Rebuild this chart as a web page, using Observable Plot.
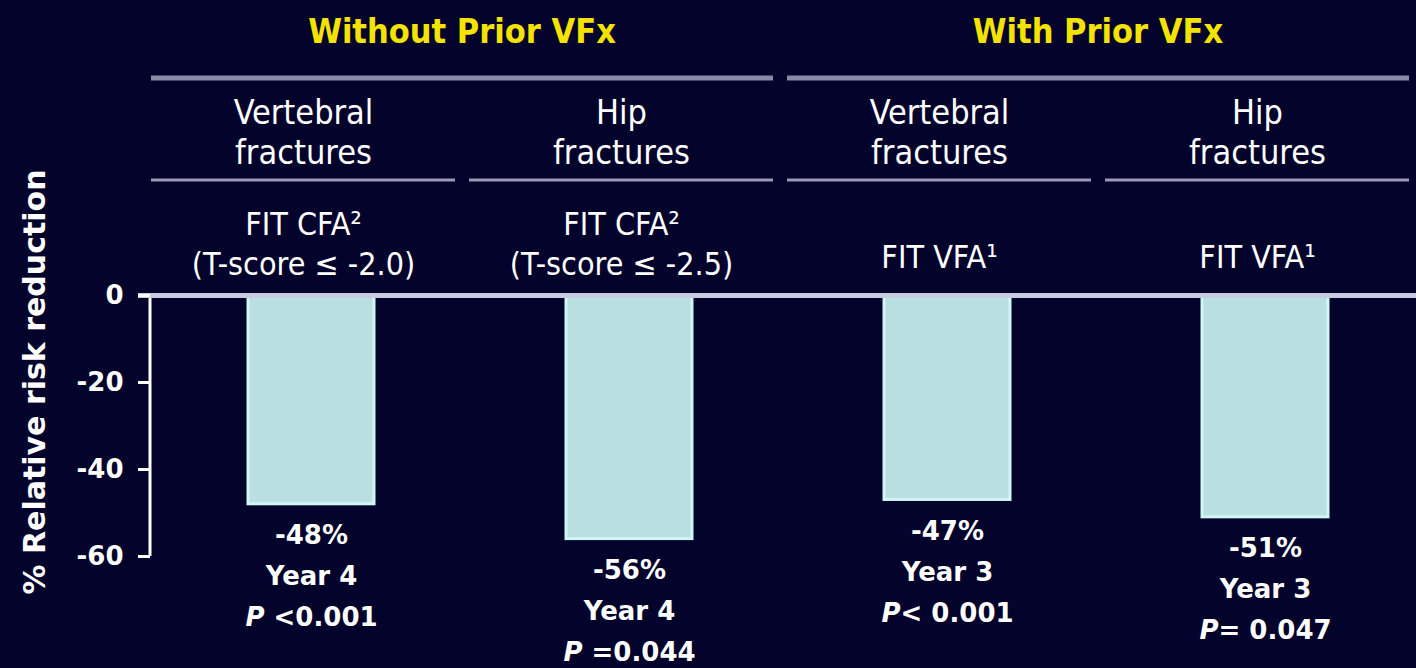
<!DOCTYPE html>
<html>
<head>
<meta charset="utf-8">
<script src="https://cdn.jsdelivr.net/npm/d3@7"></script>
<script src="https://cdn.jsdelivr.net/npm/@observablehq/plot@0.6"></script>
<style>
  html, body { margin: 0; padding: 0; background: #03032c; }
  #chart { width: 1416px; height: 668px; }
</style>
</head>
<body>
<div id="chart"></div>
<script>
// ---- Data ----
const groups = ["Without Prior VFx", "Without Prior VFx", "With Prior VFx", "With Prior VFx"];
const fractureTypes = ["Vertebral\nfractures", "Hip\nfractures", "Vertebral\nfractures", "Hip\nfractures"];
const studies = ["FIT CFA²\n(T-score ≤ -2.0)", "FIT CFA²\n(T-score ≤ -2.5)", "FIT VFA¹", "FIT VFA¹"];
const values = [-48, -56, -47, -51];
const valueLabels = ["-48%", "-56%", "-47%", "-51%"];
const years = ["Year 4", "Year 4", "Year 3", "Year 3"];
const pValues = ["P <0.001", "P =0.044", "P< 0.001", "P= 0.047"];
const yTicks = [0, -20, -40, -60];
const yLabel = "% Relative risk reduction";

// ---- Derived table ----
const keys = groups.map((g, i) => g + " | " + fractureTypes[i].replace("\n", " "));
const rows = keys.map((key, i) => ({
  key,
  group: groups[i],
  type: fractureTypes[i],
  study: studies[i],
  value: values[i],
  label: `${valueLabels[i]}\n${years[i]}\n${pValues[i]}`
}));

const BG = "#03032c";
const YELLOW = "#f4e300";
const COND = "'DejaVu Sans Condensed', 'DejaVu Sans', sans-serif";
const SANS = "'DejaVu Sans', sans-serif";

// Header decorations (group titles, separator lines, y-axis line) computed from the scales
function headerMark(index, scales, vals, dimensions) {
  const x = scales.x;
  const bw = x.bandwidth ? x.bandwidth() : 0;
  const step = x.step ? x.step() : 320;
  const top = dimensions.marginTop;
  const shift = -8, half = step * 0.478;
  const g = d3.create("svg:g");
  const centers = keys.map(k => x(k) + bw / 2 + shift);
  const groupNames = [...new Set(groups)];
  groupNames.forEach(name => {
    const cs = centers.filter((c, i) => groups[i] === name);
    const x1 = d3.min(cs) - half, x2 = d3.max(cs) + half;
    g.append("line")
      .attr("x1", x1).attr("x2", x2)
      .attr("y1", top - 217).attr("y2", top - 217)
      .attr("stroke", "#8a8aa8").attr("stroke-width", 5);
    g.append("text")
      .attr("x", (x1 + x2) / 2).attr("y", top - 263).attr("dy", "0.32em")
      .attr("text-anchor", "middle")
      .attr("fill", YELLOW)
      .attr("font-family", COND).attr("font-weight", "bold").attr("font-size", 34)
      .text(name);
  });
  centers.forEach(c => {
    g.append("line")
      .attr("x1", c - half).attr("x2", c + half)
      .attr("y1", top - 115).attr("y2", top - 115)
      .attr("stroke", "#9a9ab6").attr("stroke-width", 3);
  });
  // y axis line
  g.append("line")
    .attr("x1", dimensions.marginLeft).attr("x2", dimensions.marginLeft)
    .attr("y1", scales.y(0)).attr("y2", scales.y(d3.min(yTicks)))
    .attr("stroke", "white").attr("stroke-width", 3);
  return g.node();
}

const twoLineStudies = rows.filter(d => d.study.includes("\n"));
const oneLineStudies = rows.filter(d => !d.study.includes("\n"));

const plot = Plot.plot({
  width: 1416,
  height: 668,
  marginLeft: 150,
  marginRight: 0,
  marginTop: 295,
  marginBottom: 112,
  style: { background: BG, color: "white", fontFamily: SANS, overflow: "visible" },
  x: { type: "band", domain: keys, range: [150, 1425], paddingInner: 0.604, paddingOuter: 0.305, axis: null },
  y: { domain: [-60, 0], axis: null },
  marks: [
    headerMark,
    // column headers
    Plot.text(rows, {
      x: "key", text: "type", frameAnchor: "top", dy: -164, dx: -8,
      lineAnchor: "middle", lineHeight: 1.18,
      fill: "white", fontFamily: COND, fontSize: 34
    }),
    Plot.text(twoLineStudies, {
      x: "key", text: "study", frameAnchor: "top", dy: -53, dx: -8,
      lineAnchor: "middle", lineHeight: 1.25,
      fill: "white", fontFamily: COND, fontSize: 32
    }),
    Plot.text(oneLineStudies, {
      x: "key", text: "study", frameAnchor: "top", dy: -38, dx: -8,
      lineAnchor: "middle",
      fill: "white", fontFamily: COND, fontSize: 32
    }),
    // bars
    Plot.barY(rows, { x: "key", y: "value", fill: "#b9dfe1", stroke: "#d2f6f6", strokeWidth: 3 }),
    // zero line
    Plot.ruleY([0], { stroke: "#c9c9e0", strokeWidth: 5, insetLeft: -12 }),
    // y axis
    Plot.axisY({
      ticks: yTicks, tickSize: 12, tickPadding: 15,
      tickFormat: d => String(d),
      stroke: "white", strokeWidth: 3,
      fill: "white", fontSize: 26, fontWeight: "bold", fontFamily: SANS,
      label: null
    }),
    // y axis title
    Plot.text([yLabel], {
      text: d => d, frameAnchor: "left", textAnchor: "middle", rotate: -90, dx: -115, dy: -44,
      fill: "white", fontSize: 30, fontWeight: "bold", fontFamily: SANS
    }),
    // bar annotations
    Plot.text(rows, {
      x: "key", y: "value", text: "label",
      lineAnchor: "top", dy: 11, lineHeight: 1.57,
      fill: "white", fontSize: 26, fontWeight: "bold", fontFamily: SANS
    })
  ]
});

// italic "P" in p-value lines
d3.select(plot).selectAll("tspan, text").each(function () {
  if (this.children && this.children.length) return;
  const t = this.textContent;
  if (/^P[ <=]/.test(t)) {
    this.textContent = "";
    d3.select(this).append("tspan").attr("font-style", "italic").text("P");
    this.appendChild(document.createTextNode(t.slice(1)));
  }
});

document.getElementById("chart").appendChild(plot);
</script>
</body>
</html>
